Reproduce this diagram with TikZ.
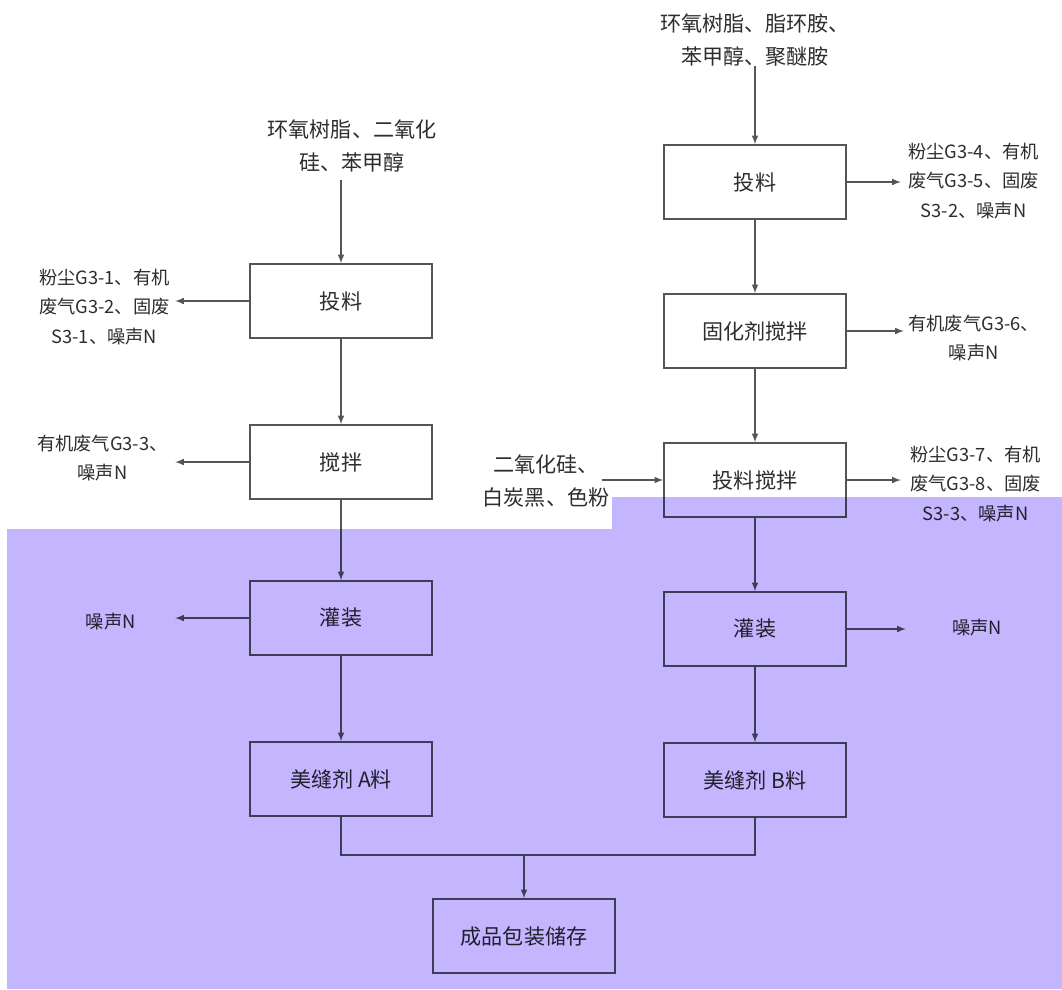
\documentclass[tikz,border=0pt]{standalone}
\usepackage{fontspec}
\setmainfont{Noto Sans CJK SC}
\usepackage[rgb]{xcolor}
\usepackage{tikz}

\definecolor{linegray}{RGB}{85,85,85}
\definecolor{textgray}{RGB}{45,45,45}
\definecolor{purplish}{RGB}{196,181,255}

\tikzset{
  box/.style={draw=linegray, line width=1.1pt, minimum width=4.55cm, minimum height=1.85cm,
    text=textgray, font=\fontsize{15pt}{18pt}\selectfont},
  intext/.style={align=center, text=textgray, inner sep=0pt,
    font=\fontsize{15pt}{23pt}\selectfont},
  outtext/.style={align=center, text=textgray, inner sep=0pt,
    font=\fontsize{13pt}{21pt}\selectfont},
  flow/.style={draw=linegray, line width=1.1pt}
}

\begin{document}
\begin{tikzpicture}[x=0.025cm, y=-0.025cm, >=latex]

\useasboundingbox (0,0) rectangle (1062,989);

% part A, left line
\path
(341,301) node[box] (feedA) {投料}
(341,462) node[box] (mixA) {搅拌}
(341,618) node[box] (fillA) {灌装}
(341,779) node[box] (prodA) {美缝剂 A料};

% part B, right line
\path
(755,182) node[box] (feedB) {投料}
(755,331) node[box] (cureB) {固化剂搅拌}
(755,480) node[box] (mixB) {投料搅拌}
(755,629) node[box] (fillB) {灌装}
(755,780) node[box] (prodB) {美缝剂 B料};

\path
(524,936) node[box] (store) {成品包装储存};

% raw materials
\path
(352,146) node[intext] (inA) {环氧树脂、二氧化\\硅、苯甲醇}
(755,40) node[intext] (inB) {环氧树脂、脂环胺、\\苯甲醇、聚醚胺}
(546,481) node[intext] (inC) {二氧化硅、\\白炭黑、色粉};

% emissions
\path
(170,307) node[outtext, anchor=east] (dustA) {粉尘G3-1、有机\\废气G3-2、固废\\S3-1、噪声N}
(168,458) node[outtext, anchor=east] (gasA) {有机废气G3-3、\\噪声N}
(136,622) node[outtext, anchor=east] (noiseA) {噪声N}
(908,181) node[outtext, anchor=west] (dustB) {粉尘G3-4、有机\\废气G3-5、固废\\S3-2、噪声N}
(908,338) node[outtext, anchor=west] (gasB) {有机废气G3-6、\\噪声N}
(910,484) node[outtext, anchor=west] (dustC) {粉尘G3-7、有机\\废气G3-8、固废\\S3-3、噪声N}
(952,628) node[outtext, anchor=west] (noiseB) {噪声N};

\coordinate (merge) at (524,855);

% main flow
\draw[flow, ->] (inA.south -| feedA.north) ++(0,8) -- (feedA.north);
\draw[flow, ->] (feedA) -- (mixA);
\draw[flow, ->] (mixA) -- (fillA);
\draw[flow, ->] (fillA) -- (prodA);
\draw[flow, ->] (inB.south) -- (feedB.north);
\draw[flow, ->] (feedB) -- (cureB);
\draw[flow, ->] (cureB) -- (mixB);
\draw[flow, ->] (mixB) -- (fillB);
\draw[flow, ->] (fillB) -- (prodB);
\draw[flow, ->] (inC.east |- mixB.west) ++(-8,0) -- (mixB.west);
\draw[flow] (prodA.south) |- (merge) -| (prodB.south);
\draw[flow, ->] (merge) -- (store.north);

% side arrows
\draw[flow, ->] (feedA.west) -- ++(-74,0);
\draw[flow, ->] (mixA.west) -- ++(-74,0);
\draw[flow, ->] (fillA.west) -- ++(-74,0);
\draw[flow, ->] (feedB.east) -- ++(54,0);
\draw[flow, ->] (cureB.east) -- ++(57,0);
\draw[flow, ->] (mixB.east) -- ++(54,0);
\draw[flow, ->] (fillB.east) -- ++(59,0);

% purple overlay
\begin{scope}[blend mode=multiply]
\fill[purplish] (7,529) rectangle (1062,989);
\fill[purplish] (612,497) rectangle (1062,529);
\end{scope}

\end{tikzpicture}
\end{document}
